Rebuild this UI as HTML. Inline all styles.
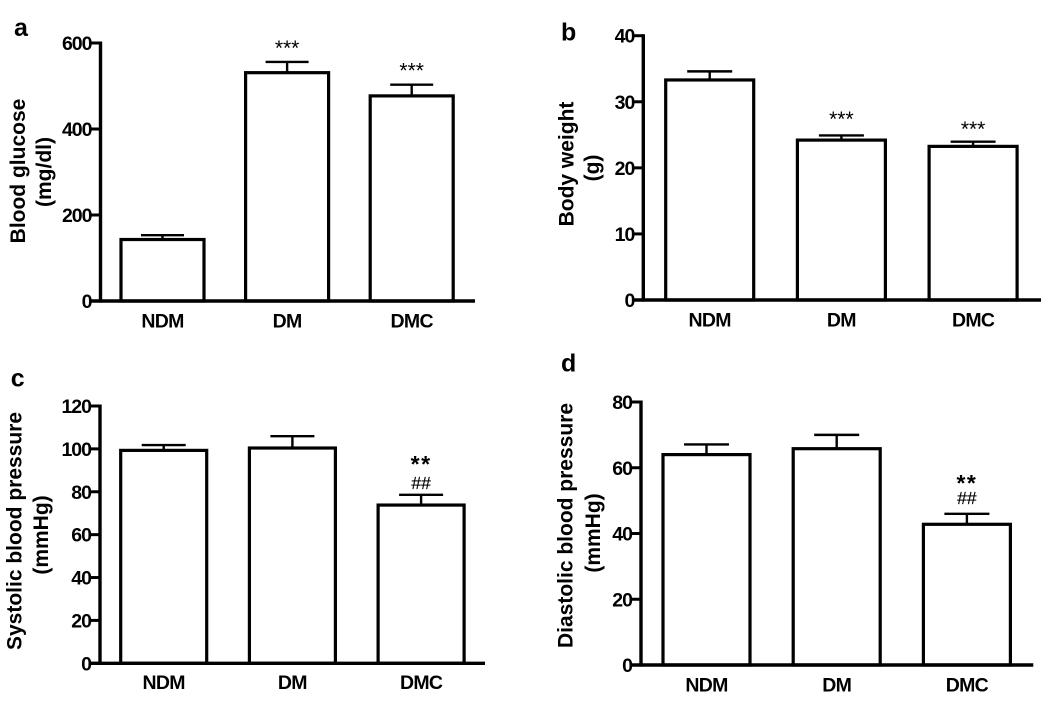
<!DOCTYPE html>
<html lang="en">
<head>
<meta charset="utf-8">
<title>Blood glucose, body weight and blood pressure bar charts</title>
<style>
html,body{margin:0;padding:0;background:#fff;width:1050px;height:705px;overflow:hidden}
svg{display:block;filter:blur(0.35px)}
text{font-family:"Liberation Sans",Arial,sans-serif;fill:#000}
</style>
</head>
<body>
<svg id="figure" xmlns="http://www.w3.org/2000/svg" width="1050" height="705" viewBox="0 0 1050 705"></svg>
<script>
const categories = ['NDM', 'DM', 'DMC'];

const glucoseMeans = [143, 531, 477];
const glucoseUpper = [153, 556, 503];
const glucoseTicks = [0, 200, 400, 600];
const glucoseStars = ['', '***', '***'];
const glucoseHashes = ['', '', ''];

const weightMeans = [33.3, 24.2, 23.25];
const weightUpper = [34.6, 24.9, 23.96];
const weightTicks = [0, 10, 20, 30, 40];
const weightStars = ['', '***', '***'];
const weightHashes = ['', '', ''];

const systolicMeans = [99.3, 100.4, 73.8];
const systolicUpper = [101.8, 105.9, 78.6];
const systolicTicks = [0, 20, 40, 60, 80, 100, 120];
const systolicStars = ['', '', '**'];
const systolicHashes = ['', '', '##'];

const diastolicMeans = [64, 65.8, 42.8];
const diastolicUpper = [67.1, 70, 46];
const diastolicTicks = [0, 20, 40, 60, 80];
const diastolicStars = ['', '', '**'];
const diastolicHashes = ['', '', '##'];

const svg = document.getElementById('figure');
const NS = 'http://www.w3.org/2000/svg';

function make(tag, parent, props) {
  const el = document.createElementNS(NS, tag);
  for (const k in props) el.setAttribute(k, props[k]);
  parent.appendChild(el);
  return el;
}

function drawPanel(p) {
  const g = make('g', svg, {});
  
  

  const yMax = p.ticks[p.ticks.length - 1];
  const yScale = v => p.y0 - (v / yMax) * (p.y0 - p.yTop);
  const xLeft = i => p.barLeft + i * p.barStep;
  const xCenter = i => xLeft(i) + p.barWidth / 2;

  const letter = make('text', g, {x: p.letterX, y: p.letterY, 'font-size': 25, 'font-weight': 'bold'});
  letter.textContent = p.letter;
  
  

  p.means.forEach((m, i) => {
    const cx = xCenter(i);
    const top = yScale(p.upper[i]);
    const stem = make('line', g, {x1: cx, x2: cx, y1: yScale(m), y2: top, stroke: '#000', 'stroke-width': 2.4});
    
    
    const cap = make('line', g, {x1: cx - p.capHalf, x2: cx + p.capHalf, y1: top, y2: top, stroke: '#000', 'stroke-width': 2.4});
    
    
    const bar = make('rect', g, {x: xLeft(i), y: yScale(m), width: p.barWidth, height: p.y0 - yScale(m), fill: '#fff', stroke: '#000', 'stroke-width': 3.2});
    
    

    const label = make('text', g, {x: cx, y: p.catY, 'font-size': 19.5, 'font-weight': 'bold', 'text-anchor': 'middle', 'letter-spacing': -0.7});
    label.textContent = categories[i];
    
    

    if (p.stars[i]) {
      const big = p.stars[i] === '**';
      const star = make('text', g, {
        x: cx,
        y: top - (big ? p.bigStarGap : p.starGaps[i]),
        'font-size': big ? 23 : 21,
        'font-weight': big ? 'bold' : 'normal',
        'letter-spacing': big ? 1.5 : 0,
        'text-anchor': 'middle'
      });
      star.textContent = p.stars[i];
      
      
    }
    if (p.hashes[i]) {
      const hash = make('text', g, {x: cx, y: top - p.hashGap, 'font-size': 17.5, 'text-anchor': 'middle', stroke: '#000', 'stroke-width': 0.2});
      hash.textContent = p.hashes[i];
      
      
    }
  });

  const yAxis = make('line', g, {x1: p.axisX, x2: p.axisX, y1: p.yTop - 1.5, y2: p.y0 + 1.6, stroke: '#000', 'stroke-width': 3.4});
  
  
  const xAxis = make('line', g, {x1: p.axisX - 9, x2: p.xEnd, y1: p.y0, y2: p.y0, stroke: '#000', 'stroke-width': 3.4});
  
  

  p.ticks.forEach(t => {
    const y = yScale(t);
    const mark = make('line', g, {x1: p.axisX - 9, x2: p.axisX, y1: y, y2: y, stroke: '#000', 'stroke-width': 3});
    
    
    const lab = make('text', g, {x: p.axisX - 9, y: y + 7, 'font-size': 19.5, 'font-weight': 'bold', 'text-anchor': 'end', 'letter-spacing': -1});
    lab.textContent = t;
    
    
  });

  const t1 = make('text', g, {transform: 'translate(' + p.titleX + ' ' + p.titleY + ') rotate(-90)', 'font-size': 21, 'font-weight': 'bold', 'text-anchor': 'middle'});
  t1.textContent = p.title;
  
  
  const t2 = make('text', g, {transform: 'translate(' + p.unitX + ' ' + p.unitY + ') rotate(-90)', 'font-size': 21, 'font-weight': 'bold', 'text-anchor': 'middle'});
  t2.textContent = p.unit;
  
  
}

drawPanel({
  letter: 'a', letterX: 14, letterY: 36,
  means: glucoseMeans, upper: glucoseUpper, ticks: glucoseTicks, stars: glucoseStars, hashes: glucoseHashes,
  axisX: 100.5, y0: 301, yTop: 43, xEnd: 475,
  barLeft: 121, barWidth: 83, barStep: 124.6, capHalf: 21.5, catY: 327.5,
  starGaps: [0, 7, 7], bigStarGap: 23, hashGap: 6,
  title: 'Blood glucose', unit: '(mg/dl)',
  titleX: 25, titleY: 171, unitX: 51, unitY: 172
});
drawPanel({
  letter: 'b', letterX: 561, letterY: 40.7,
  means: weightMeans, upper: weightUpper, ticks: weightTicks, stars: weightStars, hashes: weightHashes,
  axisX: 643.3, y0: 300, yTop: 35.7, xEnd: 1041,
  barLeft: 665.7, barWidth: 88, barStep: 131.7, capHalf: 22.5, catY: 326.7,
  starGaps: [0, 9.5, 5.5], bigStarGap: 23, hashGap: 6,
  title: 'Body weight', unit: '(g)',
  titleX: 573.3, titleY: 164, unitX: 599, unitY: 168
});
drawPanel({
  letter: 'c', letterX: 10.7, letterY: 386.7,
  means: systolicMeans, upper: systolicUpper, ticks: systolicTicks, stars: systolicStars, hashes: systolicHashes,
  axisX: 100, y0: 663.3, yTop: 406, xEnd: 485,
  barLeft: 120.7, barWidth: 86, barStep: 128.7, capHalf: 22, catY: 689,
  starGaps: [0, 7, 7], bigStarGap: 23, hashGap: 6,
  title: 'Systolic blood pressure', unit: '(mmHg)',
  titleX: 21.7, titleY: 531, unitX: 48, unitY: 535
});
drawPanel({
  letter: 'd', letterX: 561, letterY: 371.7,
  means: diastolicMeans, upper: diastolicUpper, ticks: diastolicTicks, stars: diastolicStars, hashes: diastolicHashes,
  axisX: 641, y0: 665, yTop: 402, xEnd: 1033.3,
  barLeft: 663, barWidth: 87, barStep: 130.2, capHalf: 22.5, catY: 691.7,
  starGaps: [0, 7, 7], bigStarGap: 23, hashGap: 10,
  title: 'Diastolic blood pressure', unit: '(mmHg)',
  titleX: 572.7, titleY: 525.5, unitX: 600, unitY: 533
});
</script>
</body>
</html>
